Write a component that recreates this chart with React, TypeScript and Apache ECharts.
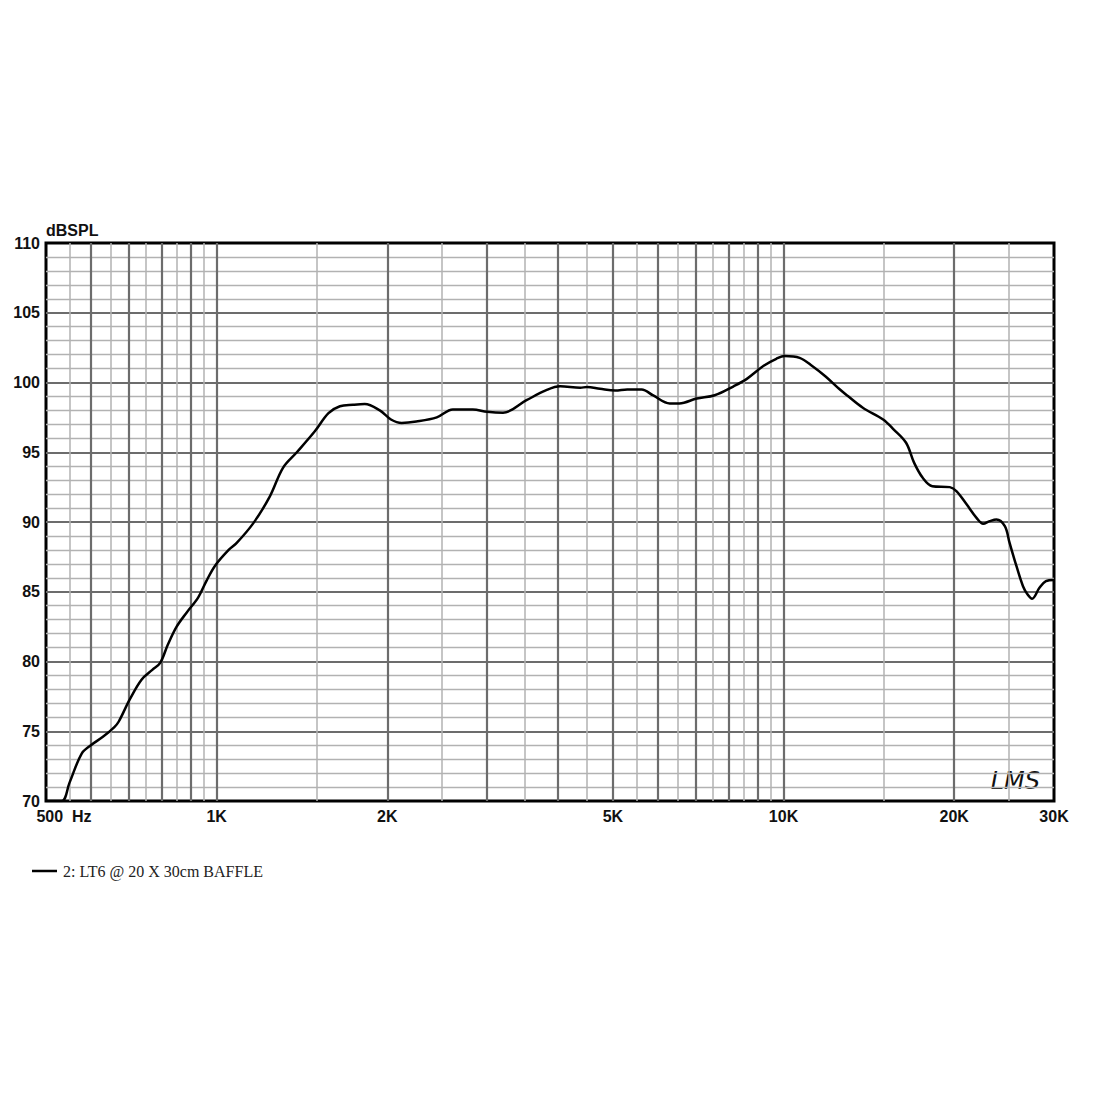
import React, { useEffect, useRef } from "react";
import * as echarts from "echarts";

// Measured response (Hz, dB SPL)
const freqs = [
  500, 533, 550, 578, 600, 630, 660, 672, 703, 737, 770, 795, 820, 850, 885, 928, 960, 995,
  1050, 1085, 1160, 1240, 1310, 1385, 1490, 1575, 1650, 1740, 1825, 1940, 2030, 2120, 2250,
  2445, 2610, 2830, 3000, 3200, 3520, 3815, 4035, 4380, 4500, 4745, 5050, 5300, 5620, 5890,
  6300, 6550, 7030, 7560, 8165, 8615, 9225, 9710, 10050, 10675, 11250, 11850, 12530, 12950,
  13800, 14985, 15650, 16450, 17000, 17600, 18300, 19650, 20200, 21050, 21900, 22500, 23100,
  23750, 24570, 25050, 25760, 26450, 26950, 27450, 28280, 29030, 30000,
];
const spl = [
  70.0, 70.0, 71.3, 73.4, 74.0, 74.6, 75.3, 75.7, 77.3, 78.7, 79.4, 79.9, 81.2, 82.5, 83.5, 84.6, 85.8, 86.9,
  88.0, 88.5, 89.9, 91.8, 93.9, 95.0, 96.5, 97.8, 98.3, 98.4, 98.45, 98.0, 97.35, 97.1, 97.2,
  97.5, 98.07, 98.07, 97.9, 97.83, 98.73, 99.45, 99.73, 99.62, 99.68, 99.55, 99.42, 99.5, 99.5, 99.07,
  98.5, 98.5, 98.85, 99.09, 99.73, 100.26, 101.2, 101.7, 101.9, 101.77, 101.17, 100.45, 99.55, 99.07,
  98.19, 97.35, 96.63, 95.68, 94.24, 93.17, 92.57, 92.5, 92.2, 91.25, 90.3, 89.87, 90.06,
  90.18, 89.7, 88.5, 86.83, 85.4, 84.8, 84.5, 85.28, 85.76, 85.85,
];

const seriesName = "2: LT6 @ 20 X 30cm BAFFLE";

// Vertical grid lines
const majorFreqs = [600, 700, 800, 900, 1000, 2000, 3000, 4000, 5000, 6000, 7000, 8000, 9000, 10000, 20000];
const minorFreqs = [550, 650, 750, 850, 950, 1500, 2500, 3500, 4500, 5500, 6500, 7500, 8500, 9500, 15000, 25000];

// X tick labels
const xTickValues = [500, 1000, 2000, 5000, 10000, 20000, 30000];
const xTickLabels = ["500  Hz", "1K", "2K", "5K", "10K", "20K", "30K"];

// Y axis
const yMin = 70;
const yMax = 110;
const yMajorStep = 5;

const DARK = "#6c6c6c";
const LIGHT = "#b2b2b2";
const labelFont = {
  fontFamily: "Liberation Sans",
  fontWeight: "bold" as const,
  fontSize: 16,
  color: "#111",
};

export default function App() {
  const ref = useRef<HTMLDivElement>(null);

  useEffect(() => {
    if (!ref.current) return;
    const chart = echarts.init(ref.current, undefined, { renderer: "svg" });

    const markData: any[] = [];
    // horizontal grid lines
    for (let v = yMin + 1; v < yMax; v++) {
      const major = v % yMajorStep === 0;
      markData.push({
        yAxis: v,
        lineStyle: { color: major ? DARK : LIGHT, width: major ? 2 : 1.4, type: "solid" },
        label: { show: false },
      });
    }
    minorFreqs.forEach((f) =>
      markData.push({
        xAxis: f,
        lineStyle: { color: LIGHT, width: 1.5, type: "solid" },
        label: { show: false },
      })
    );
    majorFreqs.forEach((f) => {
      const idx = xTickValues.indexOf(f);
      markData.push({
        xAxis: f,
        lineStyle: { color: DARK, width: 2.2, type: "solid" },
        label:
          idx >= 0
            ? { show: true, position: "start", formatter: xTickLabels[idx], distance: 7, ...labelFont }
            : { show: false },
      });
    });
    // edge labels on transparent carrier lines
    [500, 30000].forEach((f) => {
      const idx = xTickValues.indexOf(f);
      const isFirst = f === 500;
      markData.push({
        xAxis: f,
        lineStyle: { color: "rgba(255,255,255,0)", width: 1, type: "solid" },
        label: {
          show: true,
          position: "start",
          distance: 7,
          formatter: isFirst ? "{pad|}" + xTickLabels[idx] : xTickLabels[idx],
          ...labelFont,
          rich: { pad: { width: 36 } },
        },
      });
    });

    const option: any = {
      animation: false,
      backgroundColor: "#ffffff",
      grid: {
        left: 46,
        top: 243,
        width: 1008,
        height: 558,
        show: true,
        borderColor: "#000",
        borderWidth: 3,
        backgroundColor: "transparent",
        containLabel: false,
      },
      xAxis: {
        type: "log",
        logBase: 10,
        min: 500,
        max: 30000,
        axisLabel: { show: false },
        axisTick: { show: false },
        axisLine: { show: false },
        splitLine: { show: false },
        minorSplitLine: { show: false },
      },
      yAxis: {
        type: "value",
        min: yMin,
        max: yMax,
        interval: yMajorStep,
        name: "dBSPL",
        nameLocation: "end",
        nameGap: 5,
        nameTextStyle: { ...labelFont, fontSize: 16, align: "left", verticalAlign: "bottom" },
        axisLabel: { ...labelFont, margin: 6 },
        axisTick: { show: false },
        axisLine: { show: false },
        splitLine: { show: false },
      },
      legend: {
        data: [seriesName],
        left: 27,
        top: 858,
        icon: "rect",
        itemWidth: 25,
        itemHeight: 2.5,
        itemGap: 10,
        textStyle: { fontFamily: "Liberation Serif", fontSize: 16, color: "#222", padding: [0, 0, 0, 1] },
        selectedMode: false,
      },
      graphic: [
        {
          type: "text",
          right: 60,
          bottom: 307,
          style: {
            text: "LMS",
            fontFamily: "DejaVu Sans",
            fontStyle: "italic",
            fontSize: 24,
            fontWeight: "normal",
            fill: "#111",
          },
        },
      ],
      series: [
        {
          type: "line",
          name: "grid",
          data: [],
          z: 1,
          silent: true,
          markLine: {
            silent: true,
            symbol: ["none", "none"],
            animation: false,
            data: markData,
          },
        },
        {
          type: "line",
          name: seriesName,
          data: freqs.map((f, i) => [f, spl[i]]),
          showSymbol: false,
          symbol: "none",
          smooth: 0.35,
          lineStyle: { color: "#000", width: 2.5 },
          itemStyle: { color: "#000" },
          z: 5,
        },
      ],
    };

    chart.setOption(option);
    return () => chart.dispose();
  }, []);

  return (
    <div
      ref={ref}
      style={{ position: "absolute", left: 0, top: 0, width: 1100, height: 1100, background: "#fff" }}
    />
  );
}
